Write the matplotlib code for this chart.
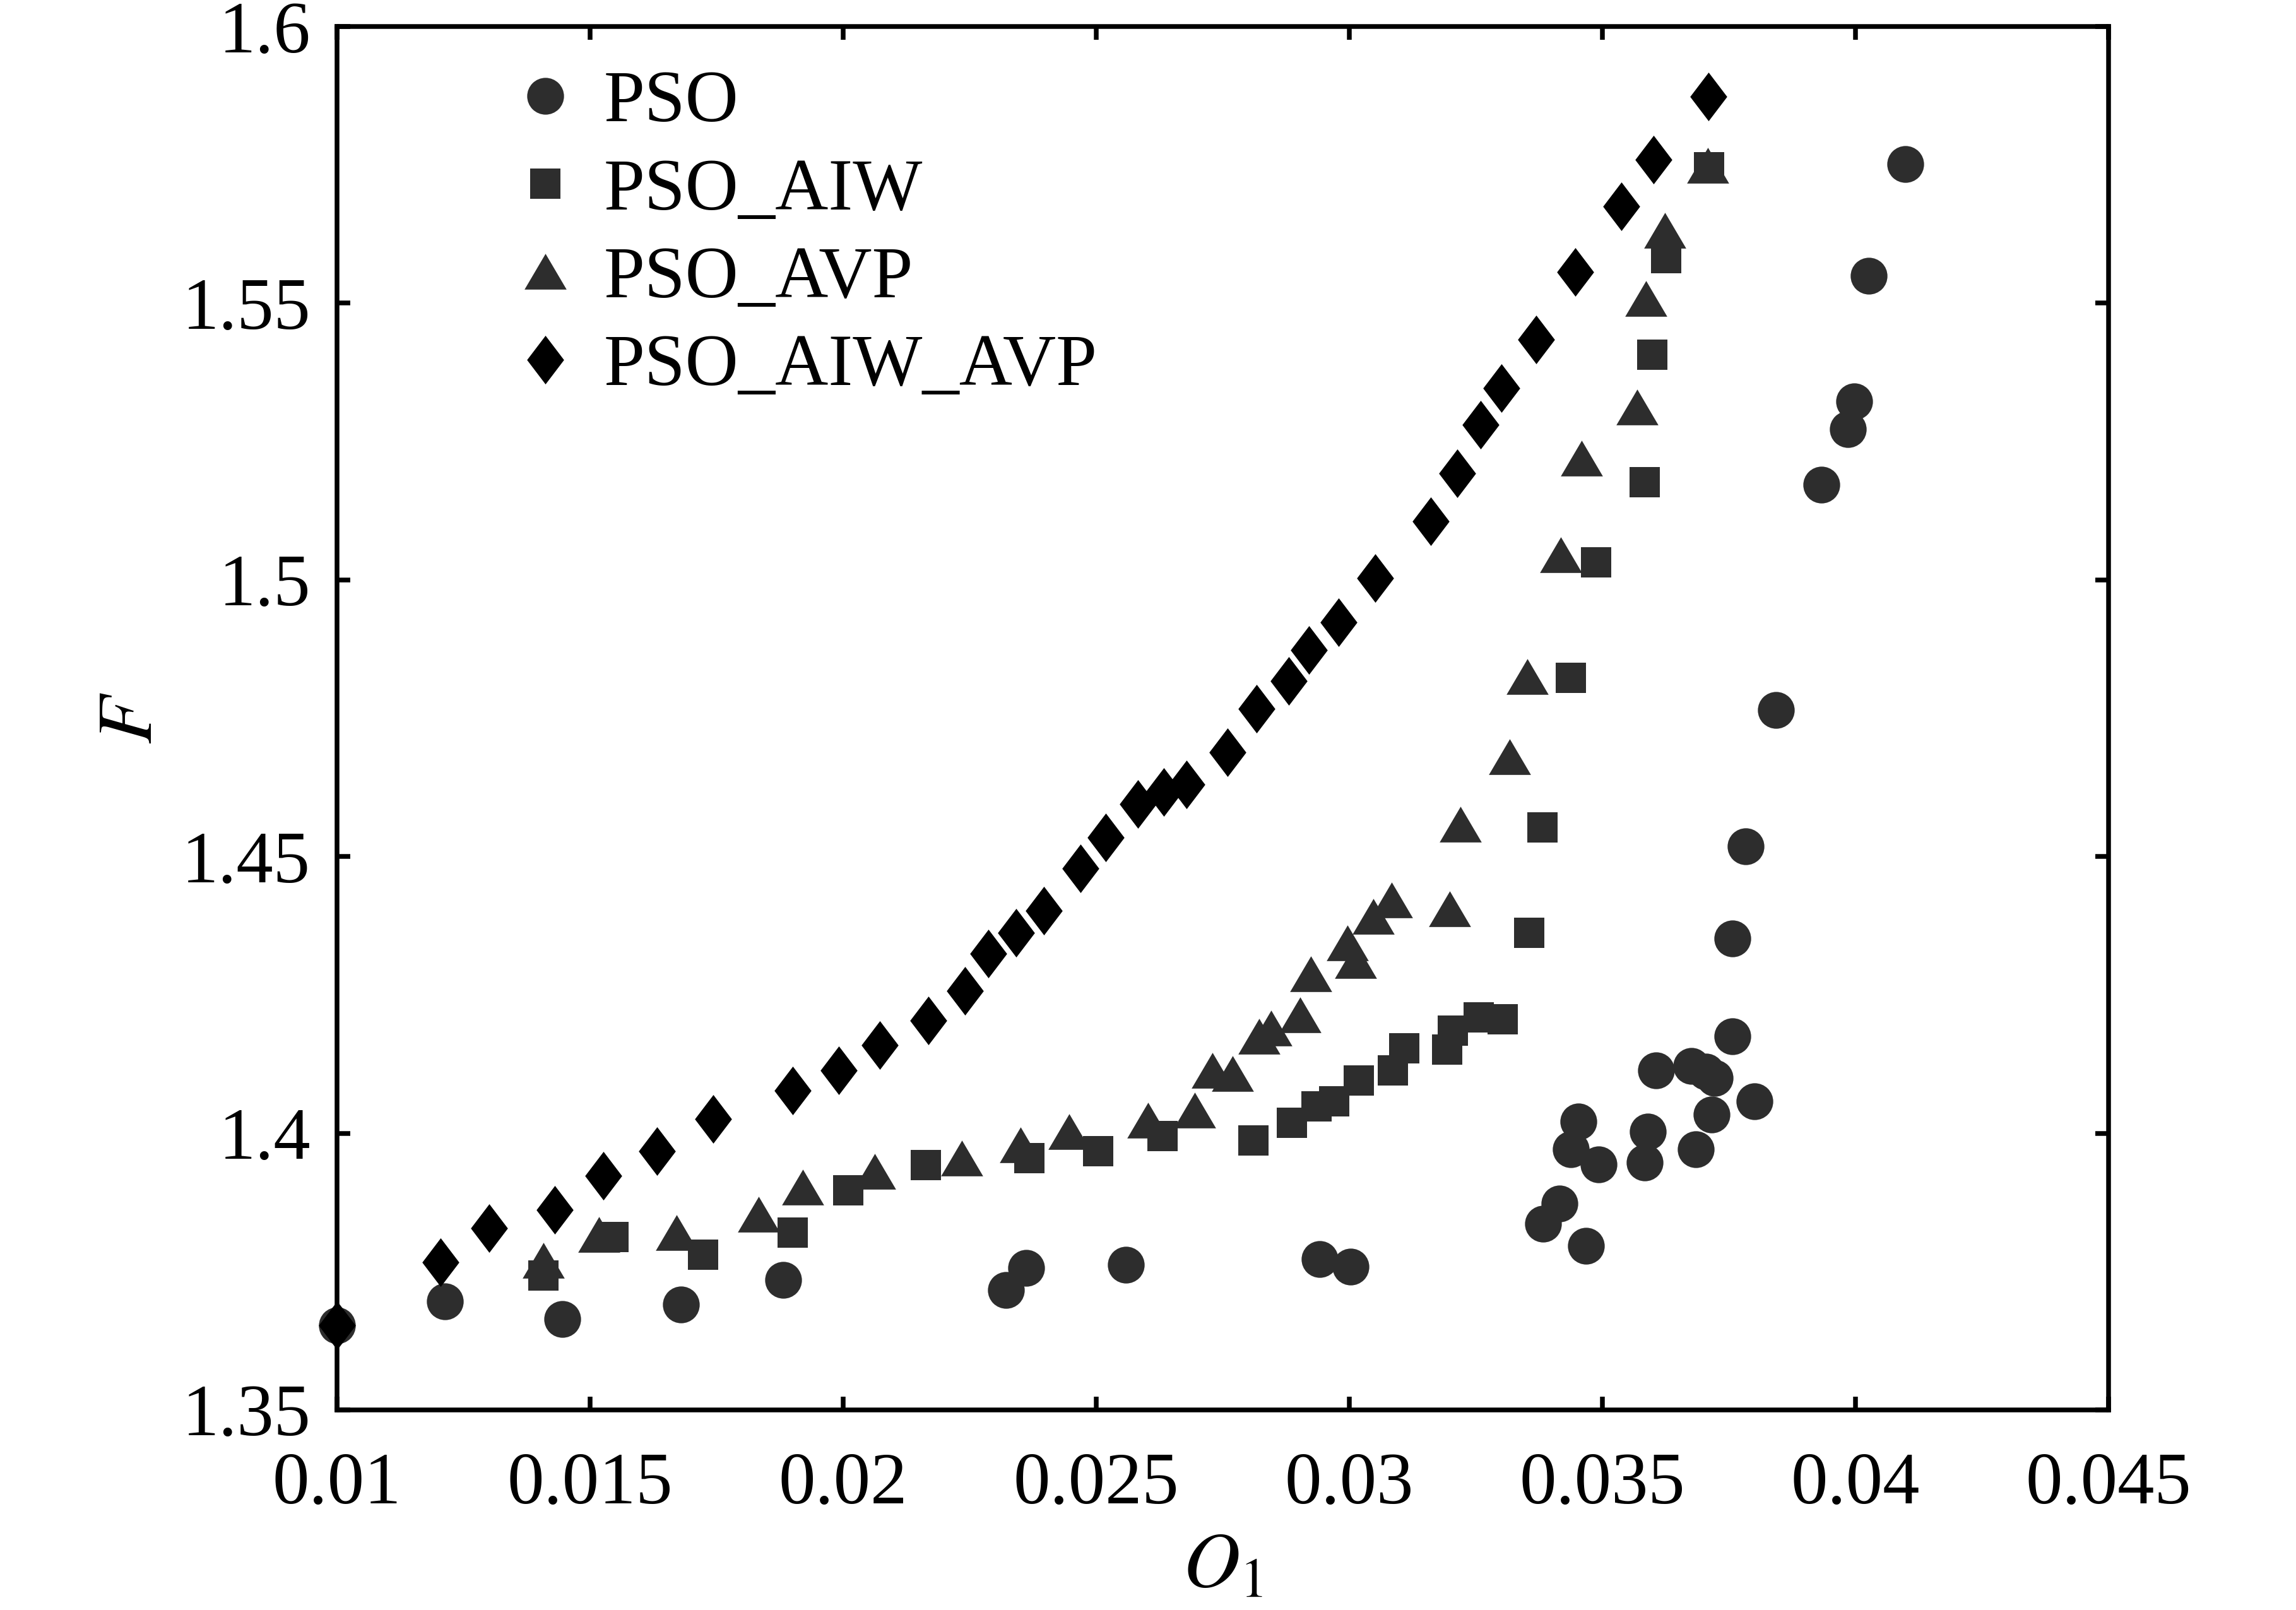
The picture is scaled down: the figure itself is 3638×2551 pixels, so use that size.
import matplotlib
matplotlib.use("Agg")
import matplotlib.pyplot as plt

plt.rcParams['font.family'] = ['Liberation Serif', 'DejaVu Serif']
plt.rcParams['mathtext.fontset'] = 'stix'

# PSO (circles)
pso_x = [0.01000, 0.01214, 0.01445, 0.01680, 0.01882, 0.02322, 0.02362, 0.02559, 0.02941, 0.03002,
         0.03383, 0.03415, 0.03438, 0.03453, 0.03467, 0.03493, 0.03583, 0.03590, 0.03606, 0.03676,
         0.03705, 0.03684, 0.03716, 0.03722, 0.03757, 0.03800, 0.03757, 0.03783, 0.03843, 0.03933,
         0.03985, 0.03997, 0.04026, 0.04098]
pso_y = [1.3653, 1.3696, 1.3664, 1.3690, 1.3735, 1.3717, 1.3757, 1.3762, 1.3772, 1.3759,
         1.3836, 1.3873, 1.3971, 1.4021, 1.3796, 1.3944, 1.3947, 1.4003, 1.4114, 1.4122,
         1.4111, 1.3971, 1.4034, 1.4100, 1.4175, 1.4058, 1.4352, 1.4519, 1.4765, 1.5172,
         1.5272, 1.5323, 1.5550, 1.5751]

# PSO_AIW (squares)
aiw_x = [0.01408, 0.01547, 0.01723, 0.01900, 0.02010, 0.02163, 0.02368, 0.02504, 0.02631, 0.02811,
         0.02886, 0.02935, 0.02970, 0.03019, 0.03086, 0.03109, 0.03193, 0.03204, 0.03256, 0.03303,
         0.03355, 0.03381, 0.03438, 0.03488, 0.03583, 0.03598, 0.03626, 0.03711]
aiw_y = [1.3743, 1.3812, 1.3780, 1.3820, 1.3897, 1.3942, 1.3955, 1.3968, 1.3995, 1.3987,
         1.4019, 1.4048, 1.4058, 1.4095, 1.4114, 1.4153, 1.4151, 1.4185, 1.4209, 1.4206,
         1.4362, 1.4553, 1.4823, 1.5032, 1.5177, 1.5407, 1.5582, 1.5746]

# PSO_AVP (triangles)
avp_x = [0.01408, 0.01518, 0.01671, 0.01833, 0.01920, 0.02062, 0.02235, 0.02351, 0.02446, 0.02602,
         0.02695, 0.02730, 0.02770, 0.02822, 0.02845, 0.02903, 0.02924, 0.02996, 0.03013, 0.03048,
         0.03083, 0.03198, 0.03219, 0.03317, 0.03352, 0.03418, 0.03459, 0.03569, 0.03586, 0.03624,
         0.03708]
avp_y = [1.3770, 1.3817, 1.3820, 1.3854, 1.3902, 1.3931, 1.3955, 1.3979, 1.4003, 1.4024,
         1.4042, 1.4114, 1.4108, 1.4175, 1.4190, 1.4214, 1.4288, 1.4344, 1.4312, 1.4392,
         1.4421, 1.4405, 1.4558, 1.4680, 1.4825, 1.5045, 1.5220, 1.5312, 1.5508, 1.5632,
         1.5749]

# PSO_AIW_AVP (diamonds)
aa_x = [0.01000, 0.01205, 0.01301, 0.01431, 0.01526, 0.01633, 0.01743, 0.01900, 0.01992, 0.02073,
        0.02169, 0.02241, 0.02287, 0.02342, 0.02397, 0.02469, 0.02519, 0.02582, 0.02634, 0.02678,
        0.02759, 0.02817, 0.02880, 0.02920, 0.02979, 0.03051, 0.03161, 0.03213, 0.03259, 0.03300,
        0.03369, 0.03447, 0.03537, 0.03601, 0.03710]
aa_y = [1.3653, 1.3767, 1.3828, 1.3862, 1.3923, 1.3968, 1.4026, 1.4077, 1.4114, 1.4159,
        1.4204, 1.4257, 1.4325, 1.4362, 1.4402, 1.4479, 1.4534, 1.4595, 1.4616, 1.4630,
        1.4688, 1.4767, 1.4817, 1.4873, 1.4923, 1.5003, 1.5106, 1.5193, 1.5280, 1.5347,
        1.5434, 1.5556, 1.5675, 1.5759, 1.5873]

labels = ['PSO', 'PSO_AIW', 'PSO_AVP', 'PSO_AIW_AVP']
x_ticks = [0.01, 0.015, 0.02, 0.025, 0.03, 0.035, 0.04, 0.045]
x_ticklabels = ['0.01', '0.015', '0.02', '0.025', '0.03', '0.035', '0.04', '0.045']
y_ticks = [1.35, 1.4, 1.45, 1.5, 1.55, 1.6]
y_ticklabels = ['1.35', '1.4', '1.45', '1.5', '1.55', '1.6']

tri = [(0, 0.85), (-1, -0.85), (1, -0.85)]
dia = [(0, 1), (0.76, 0), (0, -1), (-0.76, 0)]

fig = plt.figure(figsize=(3638 / 300, 2551 / 300), dpi=300)
ax = fig.add_axes([0.1467, 0.1243, 0.9184 - 0.1467, 0.9835 - 0.1243])

gray = '#2d2d2d'
ax.plot(pso_x, pso_y, 'o', color=gray, ms=14, mew=0, label=labels[0], clip_on=False, zorder=3)
ax.plot(aiw_x, aiw_y, 's', color=gray, ms=11.5, mew=0, label=labels[1], clip_on=False, zorder=3)
ax.plot(avp_x, avp_y, marker=tri, ls='none', color=gray, ms=16, mew=0, label=labels[2], clip_on=False, zorder=3)
ax.plot(aa_x, aa_y, marker=dia, ls='none', color='black', ms=18.5, mew=0, label=labels[3], clip_on=False, zorder=4)

ax.set_xlim(0.01, 0.045)
ax.set_ylim(1.35, 1.6)
ax.set_xticks(x_ticks)
ax.set_xticklabels(x_ticklabels)
ax.set_yticks(y_ticks)
ax.set_yticklabels(y_ticklabels)
ax.tick_params(direction='in', length=5, width=1.8, labelsize=28, top=True, right=True)
ax.tick_params(axis='x', pad=16)
ax.tick_params(axis='y', pad=10)
for s in ax.spines.values():
    s.set_linewidth(1.8)

ax.set_xlabel(r'$O_1$', fontsize=30, labelpad=5)
ax.set_ylabel(r'$F$', fontsize=30, labelpad=5)

leg = ax.legend(loc='upper left', bbox_to_anchor=(0.076, 0.99), frameon=False, fontsize=28,
                handletextpad=0.2, labelspacing=0.28, handlelength=1.2, borderaxespad=0)

fig.savefig('out.png', dpi=300)
